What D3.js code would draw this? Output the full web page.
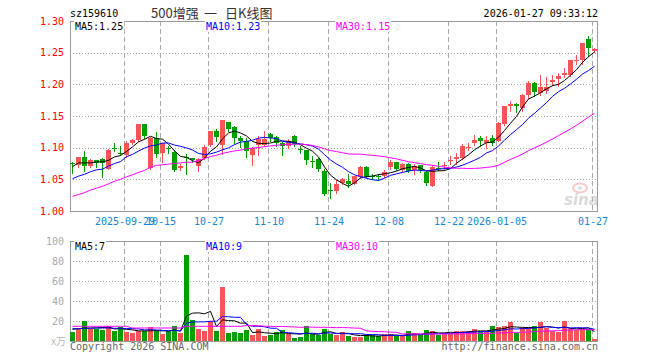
<!DOCTYPE html>
<html><head><meta charset="utf-8">
<script src="https://cdn.jsdelivr.net/npm/d3@7"></script>
<style>body{margin:0;background:#fff}svg{display:block}</style>
</head><body><svg id="c" width="660" height="360"></svg>
<script>
const dates = [
"2025-09-16","2025-09-17","2025-09-18","2025-09-19","2025-09-22","2025-09-23","2025-09-24","2025-09-25","2025-09-26","2025-09-29","2025-09-30",
"2025-10-09","2025-10-10","2025-10-13","2025-10-14","2025-10-15","2025-10-16","2025-10-17","2025-10-20","2025-10-21","2025-10-22","2025-10-23","2025-10-24","2025-10-27","2025-10-28","2025-10-29","2025-10-30","2025-10-31",
"2025-11-03","2025-11-04","2025-11-05","2025-11-06","2025-11-07","2025-11-10","2025-11-11","2025-11-12","2025-11-13","2025-11-14","2025-11-17","2025-11-18","2025-11-19","2025-11-20","2025-11-21","2025-11-24","2025-11-25","2025-11-26","2025-11-27","2025-11-28",
"2025-12-01","2025-12-02","2025-12-03","2025-12-04","2025-12-05","2025-12-08","2025-12-09","2025-12-10","2025-12-11","2025-12-12","2025-12-15","2025-12-16","2025-12-17","2025-12-18","2025-12-19","2025-12-22","2025-12-23","2025-12-24","2025-12-25","2025-12-26","2025-12-29","2025-12-30","2025-12-31",
"2026-01-05","2026-01-06","2026-01-07","2026-01-08","2026-01-09","2026-01-12","2026-01-13","2026-01-14","2026-01-15","2026-01-16","2026-01-19","2026-01-20","2026-01-21","2026-01-22","2026-01-23","2026-01-26","2026-01-27"];

const open = [1.076,1.073,1.085,1.071,1.080,1.082,1.067,1.099,1.092,1.088,
1.108,1.112,1.137,1.068,1.115,1.092,1.099,1.093,1.068,1.085,
1.083,1.071,1.084,1.105,1.126,1.105,1.140,1.132,1.116,1.110,
1.089,1.105,1.105,1.121,1.117,1.107,1.103,1.118,1.098,1.096,
1.079,1.082,1.063,1.033,1.031,1.044,1.048,1.043,1.053,1.070,
1.056,1.055,1.055,1.069,1.077,1.065,1.074,1.065,1.072,1.062,
1.040,1.068,1.071,1.080,1.082,1.083,1.100,1.107,1.116,1.108,
1.116,1.111,1.137,1.165,1.169,1.163,1.183,1.202,1.187,1.190,
1.203,1.209,1.215,1.214,1.237,1.238,1.271,1.252];
const high = [1.078,1.086,1.094,1.082,1.081,1.083,1.098,1.108,1.103,1.110,
1.114,1.138,1.138,1.117,1.125,1.108,1.102,1.097,1.074,1.090,
1.084,1.083,1.104,1.127,1.130,1.144,1.141,1.134,1.119,1.115,
1.101,1.118,1.126,1.123,1.119,1.109,1.114,1.120,1.103,1.097,
1.087,1.084,1.067,1.044,1.049,1.052,1.058,1.056,1.071,1.071,
1.058,1.058,1.064,1.081,1.078,1.076,1.076,1.074,1.073,1.063,
1.072,1.077,1.077,1.087,1.091,1.106,1.108,1.120,1.119,1.119,
1.120,1.140,1.166,1.174,1.170,1.184,1.205,1.204,1.215,1.212,
1.215,1.218,1.225,1.238,1.247,1.266,1.276,1.257];
const low = [1.060,1.070,1.063,1.069,1.070,1.053,1.066,1.094,1.089,1.085,
1.106,1.111,1.116,1.066,1.086,1.078,1.092,1.063,1.065,1.059,
1.078,1.063,1.082,1.103,1.110,1.090,1.126,1.108,1.101,1.086,
1.073,1.089,1.103,1.110,1.103,1.088,1.100,1.102,1.092,1.074,
1.070,1.063,1.025,1.020,1.029,1.042,1.038,1.042,1.052,1.052,
1.050,1.049,1.053,1.067,1.065,1.062,1.061,1.058,1.062,1.041,
1.039,1.065,1.065,1.074,1.074,1.082,1.096,1.104,1.103,1.100,
1.104,1.110,1.136,1.158,1.157,1.158,1.179,1.181,1.183,1.186,
1.199,1.197,1.212,1.213,1.232,1.232,1.245,1.251];
const close = [1.075,1.085,1.071,1.080,1.076,1.076,1.097,1.098,1.091,1.108,
1.112,1.137,1.118,1.115,1.090,1.107,1.098,1.065,1.071,1.083,
1.080,1.082,1.101,1.126,1.117,1.143,1.129,1.116,1.111,1.094,
1.099,1.114,1.114,1.116,1.107,1.102,1.111,1.106,1.097,1.080,
1.078,1.066,1.027,1.032,1.043,1.050,1.043,1.055,1.070,1.053,
1.055,1.054,1.062,1.078,1.066,1.074,1.063,1.071,1.065,1.044,
1.070,1.067,1.073,1.081,1.086,1.103,1.101,1.112,1.111,1.112,
1.108,1.139,1.165,1.169,1.165,1.183,1.202,1.188,1.196,1.196,
1.207,1.213,1.218,1.238,1.239,1.265,1.258,1.256];
const volume = [9,12,20,12.3,12.3,10.7,15,10,13.7,9,
8,10,10,14,10,6.7,10,14.7,8,85.7,
20.7,11.7,10,20,10,54,8,9,8,11.3,
5.7,11.7,4.7,5.7,9,11.3,6.7,3.3,4,14.7,
6.7,5.7,11.7,7.3,5.7,8.7,4.7,4,4,6.3,
5.7,4.7,6.7,6.7,5.3,4.7,9.7,8,5.7,10.7,
9.7,6.3,8.3,8.3,9.7,9.7,9.7,11.7,9.7,9.7,
14.7,13.7,14.7,18.7,8,13,13,14.7,18.7,13,
9.7,9,19.7,11.7,10.7,11.7,11.7,1.7];

// moving-average values before enough in-window history exists
const ma5Head = [1.070,1.076,1.076,1.076];
const ma10Head = [1.051,1.055,1.058,1.062,1.065,1.066,1.071,1.075,1.078];
const ma30Head = [1.023,1.026,1.029,1.033,1.036,1.039,1.043,1.047,1.050,1.054,
1.057,1.061,1.064,1.069,1.072,1.073,1.074,1.075,1.076,1.077,
1.077,1.080,1.083,1.086,1.088,1.091,1.093,1.095,1.096];
const vma5Head = [11.7,12.3,13.0,13.0];
const vma10Head = [12.3,12.3,12.7,12.7,13.0,13.0,13.0,12.7,12.7];
const vma30Head = [14.7,14.7,14.7,14.7,14.7,14.7,14.7,14.7,14.7,14.7,
13.0,13.0,13.0,13.0,13.0,13.0,13.0,13.0,13.0,
14.7,14.7,14.7,14.7,14.7,14.7,14.7,14.7,14.7,14.7];

const priceTicks = [1.00,1.05,1.10,1.15,1.20,1.25,1.30];
const volTicks = [20,40,60,80,100];
const tickDates = ["2025-09-29","2025-10-15","2025-10-27","2025-11-10","2025-11-24","2025-12-08","2025-12-22","2026-01-05","2026-01-27"];
const tickLabels = ["2025-09-29","10-15","10-27","11-10","11-24","12-08","12-22","2026-01-05","01-27"];
const priceLegend = ["MA5:1.25","MA10:1.23","MA30:1.15"];
const volLegend = ["MA5:7","MA10:9","MA30:10"];
const symbol = "sz159610";
const titleParts = ["500增强","一","日K线图"];
const stamp = "2026-01-27 09:33:12";

// ---------- layout / styles ----------
const L = 70, R = 598, PT = 21, PB = 211, VT = 241, VB = 341;
const UP = "#fa5555", DOWN = "#00a000";
const maColors = ["#000000","#0000ff","#ff00ff"];
const legendX = [75, 206, 336];
const titleX = [151, 204, 225];
const mono = "'DejaVu Sans Mono', monospace";

function movingAvg(arr, n, head){
  return arr.map((v,i)=> i < n-1 ? head[i] : d3.mean(arr.slice(i-n+1, i+1)));
}

const svg = d3.select("#c");
const idx = d3.range(dates.length);
const x = d3.scaleBand().domain(idx).range([L, R]).padding(0);
const y = d3.scaleLinear().domain([1.00, 1.30]).range([PB, PT]);
const yv = d3.scaleLinear().domain([0, 100]).range([VB, VT]);
const tickIdx = tickDates.map(d => dates.indexOf(d));

svg.append("clipPath").attr("id","cp").append("rect").attr("x",L).attr("y",PT).attr("width",R-L).attr("height",PB-PT);
svg.append("clipPath").attr("id","cv").append("rect").attr("x",L).attr("y",VT).attr("width",R-L).attr("height",VB-VT);

function panelGrid(top, bottom, hVals, scale){
  const g = svg.append("g").attr("shape-rendering","crispEdges");
  g.selectAll(".h").data(hVals).join("line")
    .attr("x1",L).attr("x2",R)
    .attr("y1",d=>Math.round(scale(d))+0.5).attr("y2",d=>Math.round(scale(d))+0.5)
    .attr("stroke","#aaa").attr("stroke-dasharray","1,2");
  g.selectAll(".v").data(tickIdx).join("line")
    .attr("x1",d=>x(d)+0.5).attr("x2",d=>x(d)+0.5)
    .attr("y1",top).attr("y2",bottom)
    .attr("stroke","#aaa").attr("stroke-dasharray","5,3");
  g.append("rect").attr("x",L+0.5).attr("y",top+0.5).attr("width",R-L-1).attr("height",bottom-top)
    .attr("fill","none").attr("stroke","#999");
}
panelGrid(PT, PB, [1.05,1.10,1.15,1.20,1.25], y);
panelGrid(VT, VB, [20,40,60,80], yv);

// watermark
const wm = svg.append("g").attr("opacity",0.55);
wm.append("ellipse").attr("cx",580).attr("cy",188).attr("rx",7).attr("ry",4.5)
  .attr("fill","none").attr("stroke","#f2a0a0").attr("stroke-width",2);
wm.append("circle").attr("cx",580).attr("cy",188).attr("r",2).attr("fill","#c8c8c8");
wm.append("text").attr("x",564).attr("y",205).text("sina")
  .attr("font-family","'DejaVu Sans', sans-serif").attr("font-size",15).attr("font-weight","bold")
  .attr("font-style","italic").attr("fill","#bdbdbd");

// candles
const isUp = i => close[i] > open[i];
const cg = svg.append("g").attr("clip-path","url(#cp)").attr("shape-rendering","crispEdges");
cg.selectAll(".wick").data(idx).join("line")
  .attr("x1",i=>x(i)+2.5).attr("x2",i=>x(i)+2.5)
  .attr("y1",i=>Math.round(y(high[i]))).attr("y2",i=>Math.round(y(low[i]))+1)
  .attr("stroke",i=>isUp(i)?UP:DOWN);
cg.selectAll(".body").data(idx).join("rect")
  .attr("x",i=>x(i)).attr("width",5)
  .attr("y",i=>Math.round(y(Math.max(open[i],close[i]))))
  .attr("height",i=>Math.max(1, Math.round(y(Math.min(open[i],close[i]))) - Math.round(y(Math.max(open[i],close[i])))))
  .attr("fill",i=>isUp(i)?UP:DOWN);

// price MA lines
const priceMA = [movingAvg(close,5,ma5Head), movingAvg(close,10,ma10Head), movingAvg(close,30,ma30Head)];
const lineP = d3.line().x((d,i)=>x(i)+2.5).y(d=>y(d));
svg.append("g").attr("clip-path","url(#cp)").selectAll("path").data(priceMA).join("path")
  .attr("d",lineP).attr("fill","none").attr("stroke",(d,k)=>maColors[k]).attr("stroke-width",1);

// volume bars
const vg = svg.append("g").attr("clip-path","url(#cv)").attr("shape-rendering","crispEdges");
vg.selectAll("rect").data(idx).join("rect")
  .attr("x",i=>x(i)).attr("width",5)
  .attr("y",i=>Math.round(yv(volume[i]))).attr("height",i=>VB-Math.round(yv(volume[i])))
  .attr("fill",i=>isUp(i)?UP:DOWN);
const volMA = [movingAvg(volume,5,vma5Head), movingAvg(volume,10,vma10Head), movingAvg(volume,30,vma30Head)];
const lineV = d3.line().x((d,i)=>x(i)+2.5).y(d=>yv(d));
svg.append("g").attr("clip-path","url(#cv)").selectAll("path").data(volMA).join("path")
  .attr("d",lineV).attr("fill","none").attr("stroke",(d,k)=>maColors[k]).attr("stroke-width",1);

// legends with white backing
function legend(texts, baseY){
  const g = svg.append("g");
  texts.forEach((t,k)=>{
    const w = t.length*6.02;
    g.append("rect").attr("x",legendX[k]-1).attr("y",baseY-9).attr("width",w+2).attr("height",11).attr("fill","#fff");
    g.append("text").attr("x",legendX[k]).attr("y",baseY).text(t)
      .attr("font-family",mono).attr("font-size",10).attr("fill",maColors[k]);
  });
}
legend(priceLegend, 30);
legend(volLegend, 250);

// axes
const ay = svg.append("g").attr("transform",`translate(${L-3},0)`)
  .call(d3.axisLeft(y).tickValues(priceTicks).tickFormat(d3.format(".2f")).tickSize(0));
ay.select(".domain").remove();
ay.selectAll("text").attr("font-family",mono).attr("font-size",10).attr("fill","#ff0000");

const av = svg.append("g").attr("transform",`translate(${L-3},0)`)
  .call(d3.axisLeft(yv).tickValues(volTicks).tickSize(0));
av.select(".domain").remove();
av.selectAll("text").attr("font-family",mono).attr("font-size",10).attr("fill","#aaaaaa");

const ax = svg.append("g").attr("transform",`translate(-2,${PB+4})`)
  .call(d3.axisBottom(x).tickValues(tickIdx).tickFormat((d,k)=>tickLabels[k]).tickSize(0));
ax.select(".domain").remove();
ax.selectAll("text").attr("font-family",mono).attr("font-size",10).attr("fill","#1487d4");

// header & footer text
svg.append("text").attr("x",L).attr("y",17).text(symbol)
  .attr("font-family",mono).attr("font-size",10).attr("fill","#000");
titleParts.forEach((t,k)=>{
  svg.append("text").attr("x",titleX[k]).attr("y",18).text(t)
    .attr("font-family","'Noto Sans CJK SC', sans-serif").attr("font-size",13).attr("fill","#333");
});
svg.append("text").attr("x",R).attr("y",17).attr("text-anchor","end").text(stamp)
  .attr("font-family",mono).attr("font-size",10).attr("fill","#000");
svg.append("text").attr("x",L-4).attr("y",345).attr("text-anchor","end").text("x万")
  .attr("font-family","'Noto Sans CJK SC', sans-serif").attr("font-size",10).attr("fill","#bbb");
svg.append("text").attr("x",L).attr("y",350).text("Copyright 2026 SINA.COM")
  .attr("font-family",mono).attr("font-size",10).attr("fill","#666");
svg.append("text").attr("x",R).attr("y",350).attr("text-anchor","end").text("http://finance.sina.com.cn")
  .attr("font-family",mono).attr("font-size",10).attr("fill","#666");
</script></body></html>
